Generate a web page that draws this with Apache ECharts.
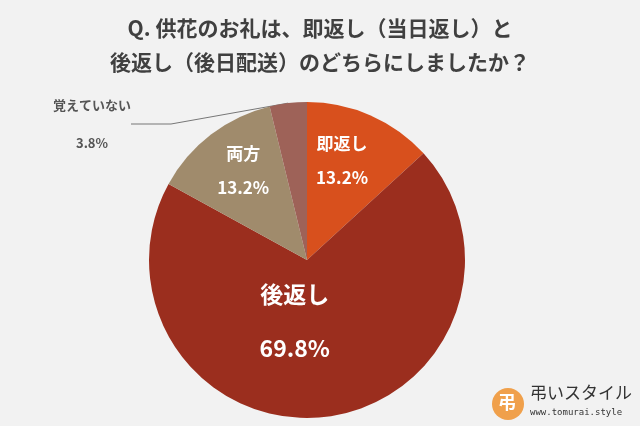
<!DOCTYPE html>
<html><head><meta charset="utf-8">
<script src="https://cdn.jsdelivr.net/npm/echarts@6/dist/echarts.min.js"></script>
<style>html,body{margin:0;background:#f2f2f2}#c{width:640px;height:426px}</style>
</head><body><div id="c"></div>
<script>
const categories = ['即返し', '後返し', '両方', '覚えていない']
const values = [13.2, 69.8, 13.2, 3.8]
const colors = ['#d8501d', '#9b2e1e', '#a08b6c', '#9e6258']

const chart = echarts.init(document.getElementById('c'))
const font = '"Noto Sans CJK JP", sans-serif'
const fmt = p => p.name + '\n' + p.value.toFixed(1) + '%'
const labelFor = [
  {position: 'inside', color: '#fff', fontSize: 17, fontWeight: 'bold', lineHeight: 34},
  {position: 'inside', color: '#fff', fontSize: 23, fontWeight: 'bold', lineHeight: 54},
  {position: 'inside', color: '#fff', fontSize: 17, fontWeight: 'bold', lineHeight: 34},
  {position: 'outside', color: '#555', fontSize: 13, fontWeight: 'bold', lineHeight: 38}
]
// nudges so labels sit where the original puts them
const shifts = [[2, -24], [-22, -20], [-14, -24]]

chart.setOption({
  backgroundColor: '#f2f2f2',
  title: {
    text: 'Q. 供花のお礼は、即返し（当日返し）と\n後返し（後日配送）のどちらにしましたか？',
    left: 'center', top: 6,
    textStyle: {fontFamily: font, fontSize: 21, fontWeight: 'bold', color: '#404040', lineHeight: 34}
  },
  graphic: [
    {type: 'circle', shape: {cx: 508, cy: 404, r: 16}, style: {fill: '#f0a04b'}},
    {type: 'text', x: 498, y: 393, style: {text: '弔', fill: '#fff', font: 'bold 18px ' + font}},
    {type: 'text', x: 530, y: 384, style: {text: '弔いスタイル', fill: '#333', font: '17px ' + font}},
    {type: 'text', x: 530, y: 408, style: {text: 'www.tomurai.style', fill: '#333', font: '9px "DejaVu Sans Mono", monospace'}}
  ],
  series: [{
    type: 'pie',
    center: [307, 260], radius: 158,
    startAngle: 90, clockwise: true,
    label: {fontFamily: font, formatter: fmt},
    labelLine: {show: true, length: 4, length2: 40, lineStyle: {color: '#777'}},
    labelLayout: p => p.dataIndex === 3
      ? {x: 92, y: 124, align: 'center', verticalAlign: 'middle'}
      : {dx: shifts[p.dataIndex][0], dy: shifts[p.dataIndex][1]},
    data: categories.map((n, i) => ({
      name: n, value: values[i],
      itemStyle: {color: colors[i]},
      label: Object.assign({fontFamily: font}, labelFor[i]),
      labelLine: {show: i === 3}
    }))
  }]
})
</script></body></html>
